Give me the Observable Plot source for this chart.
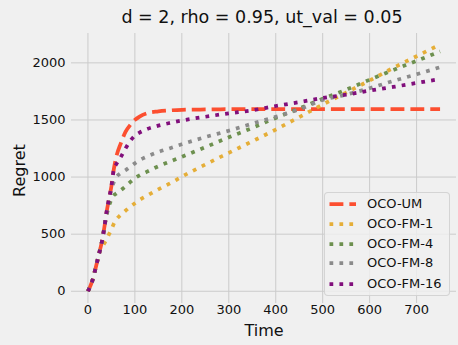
<!DOCTYPE html>
<html>
<head>
<meta charset="utf-8">
<script src="https://cdn.jsdelivr.net/npm/d3@7"></script>
<script src="https://cdn.jsdelivr.net/npm/@observablehq/plot@0.6"></script>
<style>
  body { margin: 0; background: #f0f0f0; font-family: "DejaVu Sans", sans-serif; }
  #wrap { position: relative; width: 458px; height: 345px; overflow: hidden; background: #f0f0f0; }
  #title { position: absolute; left: 66px; right: 0; top: 9px; text-align: center; font-size: 17.5px; line-height: 17px; color: #111; white-space: nowrap; }
  #chart { position: absolute; left: 0; top: 30px; }
  #legend { position: absolute; left: 324px; top: 192px; width: 126px; height: 104px; box-sizing: border-box;
            border: 1px solid rgba(204,204,204,0.8); border-radius: 4px; background: rgba(240,240,240,0.8); }
  .row { position: absolute; left: 0; height: 20px; width: 124px; }
  .row svg { position: absolute; left: 4px; top: 0; }
  .row span { position: absolute; left: 42px; top: 0; line-height: 20px; font-size: 13px; color: #111; white-space: nowrap; }
</style>
</head>
<body>
<div id="wrap">
  <div id="title"></div>
  <div id="chart"></div>
  <div id="legend"></div>
</div>
<script>
const titleText = "d = 2, rho = 0.95, ut_val = 0.05";
const xLabel = "Time";
const yLabel = "Regret";

const seriesNames = ["OCO-UM", "OCO-FM-1", "OCO-FM-4", "OCO-FM-8", "OCO-FM-16"];
const seriesColors = ["#fc4f30", "#e5ae38", "#6d904f", "#8b8b8b", "#810f7c"];

const time = [0,5,10,15,20,25,30,35,40,45,50,55,60,70,80,90,100,110,125,150,175,200,250,300,350,400,450,500,550,600,650,700,750];
const ocoUM  = [0,45,100,180,265,350,440,560,700,810,920,1065,1170,1295,1395,1455,1500,1530,1558,1575,1584,1589,1592,1594,1594,1594,1594,1594,1594,1594,1594,1594,1594];
const ocoFM1 = [0,45,100,180,265,350,385,420,458,500,540,590,625,670,705,740,770,800,835,892,945,1003,1110,1212,1313,1416,1525,1635,1740,1845,1955,2058,2160];
const ocoFM4 = [0,45,100,180,265,350,440,560,670,750,805,840,855,885,918,955,990,1015,1045,1095,1136,1177,1262,1348,1430,1518,1600,1685,1765,1852,1937,2017,2100];
const ocoFM8 = [0,45,100,180,265,350,440,560,700,810,890,955,995,1035,1060,1090,1120,1148,1178,1220,1253,1287,1350,1406,1468,1528,1593,1675,1722,1778,1841,1900,1962];
const ocoFM16= [0,45,100,180,265,350,440,560,700,810,920,1065,1110,1175,1250,1315,1362,1390,1418,1450,1474,1495,1528,1558,1585,1622,1656,1692,1721,1757,1789,1824,1858];

const xTicks = [0,100,200,300,400,500,600,700];
const yTicks = [0,500,1000,1500,2000];

const allValues = [ocoUM, ocoFM1, ocoFM4, ocoFM8, ocoFM16];
const rows = [];
allValues.forEach((vals, i) => time.forEach((t, j) => rows.push({ t, v: vals[j], name: seriesNames[i] })));

const LW = 3.75;
const dashed = `${3.7*LW},${1.6*LW}`;
const dotted = `${LW},${1.65*LW}`;

document.getElementById("title").textContent = titleText;

const plot = Plot.plot({
  width: 458,
  height: 315,
  marginLeft: 71,
  marginRight: 2,
  marginTop: 3,
  marginBottom: 42,
  style: { background: "#f0f0f0", fontFamily: "DejaVu Sans, sans-serif", fontSize: "13px", color: "#111", overflow: "visible" },
  x: { domain: [-35, 785] },
  y: { domain: [-107, 2257] },
  color: { domain: seriesNames, range: seriesColors },
  marks: [
    Plot.gridX(xTicks, { stroke: "#cbcbcb", strokeOpacity: 1, strokeWidth: 1 }),
    Plot.gridY(yTicks, { stroke: "#cbcbcb", strokeOpacity: 1, strokeWidth: 1 }),
    Plot.axisX(xTicks, { tickSize: 0, tickPadding: 1, label: null, fontSize: 13, tickFormat: d => String(d) }),
    Plot.axisY(yTicks, { tickSize: 0, tickPadding: 6, label: null, fontSize: 13, tickFormat: d => String(d) }),
    Plot.line(rows.filter(d => d.name === seriesNames[0]), {
      x: "t", y: "v", stroke: "name", strokeWidth: LW, strokeDasharray: dashed,
      curve: "monotone-x", strokeLinecap: "butt"
    }),
    Plot.line(rows.filter(d => d.name !== seriesNames[0]), {
      x: "t", y: "v", z: "name", stroke: "name", strokeWidth: LW, strokeDasharray: dotted,
      curve: "monotone-x", strokeLinecap: "butt"
    }),
    Plot.text([xLabel], { frameAnchor: "bottom", lineAnchor: "middle", textAnchor: "middle", dy: 27, fontSize: 16, fill: "#111" }),
    Plot.text([yLabel], { frameAnchor: "left", lineAnchor: "middle", textAnchor: "middle", rotate: -90, dx: -52, dy: 2, fontSize: 16, fill: "#111" })
  ]
});
document.getElementById("chart").appendChild(plot);

const legend = document.getElementById("legend");
const rowCenters = [10.5, 30.5, 50.5, 70, 90.5];
seriesNames.forEach((name, i) => {
  const row = document.createElement("div");
  row.className = "row";
  row.style.top = (rowCenters[i] - 10) + "px";
  const dash = i === 0 ? dashed : dotted;
  row.innerHTML = `<svg width="30" height="20"><line x1="0.5" x2="27" y1="10" y2="10" stroke="${seriesColors[i]}" stroke-width="${LW}" stroke-dasharray="${dash}" stroke-linecap="butt"/></svg><span>${name}</span>`;
  legend.appendChild(row);
});
</script>
</body>
</html>
